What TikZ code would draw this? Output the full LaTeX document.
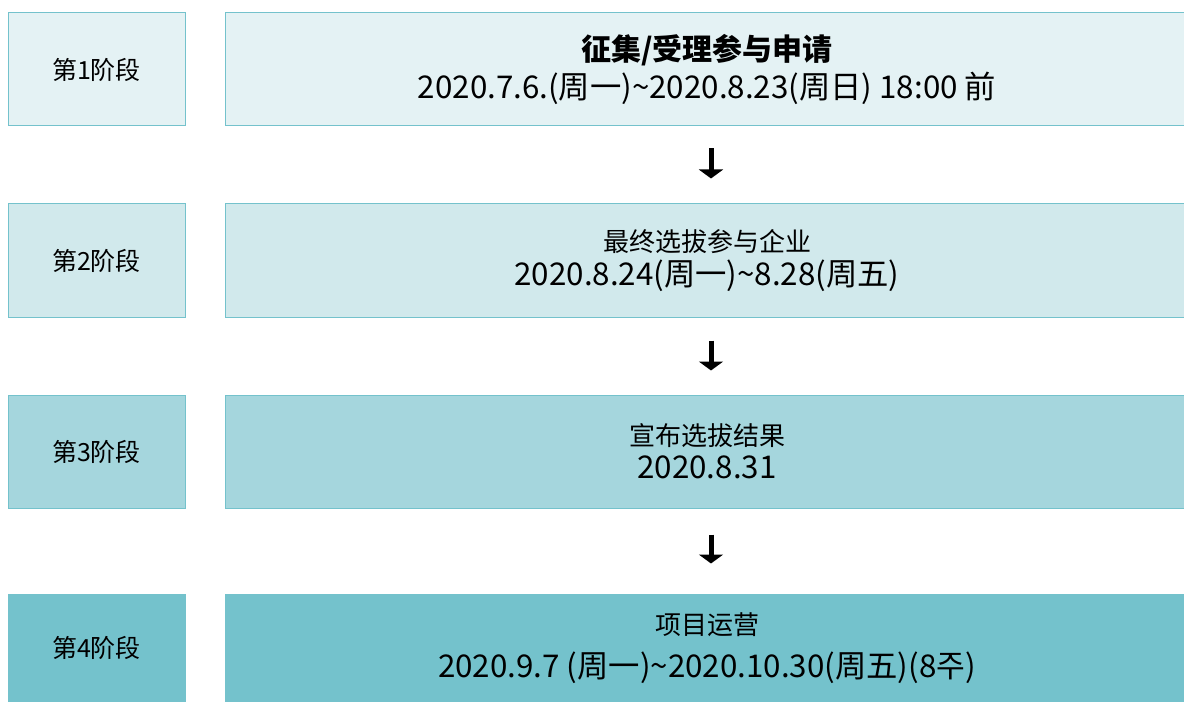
\documentclass[tikz,border=0pt]{standalone}
\usepackage{fontspec}
\setmainfont{Noto Sans CJK SC}
\usetikzlibrary{calc,positioning,arrows.meta}
\definecolor{edgeteal}{HTML}{74C2CC}
\definecolor{tintA}{HTML}{E4F2F4}
\definecolor{tintB}{HTML}{D1E9EC}
\definecolor{tintC}{HTML}{A5D6DD}
\definecolor{tintD}{HTML}{74C2CC}
\tikzset{
    stagebox/.style={
        rectangle,
        draw=edgeteal, line width=0.75pt,
        minimum width=132.75pt,
        minimum height=84.75pt,
        inner sep=0pt,
        font={\fontsize{18.75pt}{22pt}\selectfont}
    },
    phasebox/.style={
        rectangle,
        draw=edgeteal, line width=0.75pt,
        minimum width=723pt,
        minimum height=84.75pt,
        inner sep=0pt,
        align=center,
        font={\fontsize{23.5pt}{27pt}\selectfont}
    },
    flow/.style={
        draw, line width=3.75pt,
        -{Triangle[width=18pt, length=6.75pt]}
    },
}

\begin{document}
\begin{tikzpicture}[x=0.75pt, y=-0.75pt]
\useasboundingbox (0,0) rectangle (1184,702);
% stages on the left
\node[stagebox, fill=tintA] (s1) at (96.5,69.5) {第1阶段};
\node[stagebox, fill=tintB] (s2) at (96.5,260.5) {第2阶段};
\node[stagebox, fill=tintC] (s3) at (96.5,451.5) {第3阶段};
\node[stagebox, fill=tintD, draw=tintD, minimum height=81pt] (s4) at (96.5,648) {第4阶段};
% what happens in each stage
\node[phasebox, fill=tintA, right=29.25pt of s1] (p1)
    {{\bfseries\fontsize{22.5pt}{28pt}\selectfont 征集/受理参与申请}\\[1pt]
     2020.7.6.(周一)\textasciitilde2020.8.23(周日) 18:00 前};
\node[phasebox, fill=tintB, right=29.25pt of s2] (p2)
    {{\fontsize{19.5pt}{24pt}\selectfont 最终选拔参与企业}\\[-2pt]
     2020.8.24(周一)\textasciitilde8.28(周五)};
\node[phasebox, fill=tintC, right=29.25pt of s3] (p3)
    {{\fontsize{19.5pt}{24pt}\selectfont 宣布选拔结果}\\[-2pt]
     2020.8.31};
\node[phasebox, fill=tintD, draw=tintD, minimum height=81pt, right=29.25pt of s4] (p4)
    {{\fontsize{19.5pt}{24pt}\selectfont 项目运营}\\[5pt]
     2020.9.7 (周一)\textasciitilde2020.10.30(周五)(8주)};
% arrows between the phases
\draw[flow, shorten <=16.5pt, shorten >=18.75pt] ($(p1.south)+(4,0)$) -- ($(p2.north)+(4,0)$);
\draw[flow, shorten <=17.25pt, shorten >=18pt] ($(p2.south)+(4,0)$) -- ($(p3.north)+(4,0)$);
\draw[flow, shorten <=19.5pt, shorten >=22.5pt] ($(p3.south)+(4,0)$) -- ($(p4.north)+(4,0)$);
\end{tikzpicture}
\end{document}
